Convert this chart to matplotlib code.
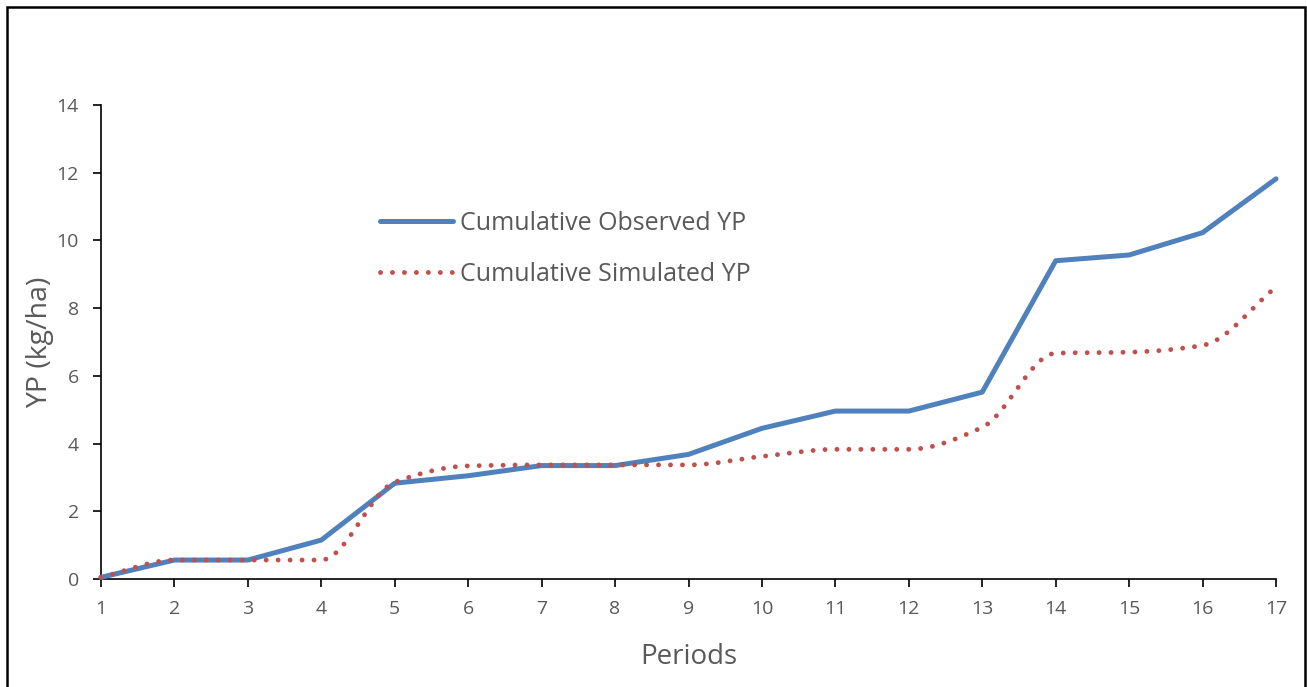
import numpy as np
import matplotlib
matplotlib.use("Agg")
import matplotlib.pyplot as plt
from matplotlib.path import Path
from matplotlib.patches import PathPatch, Rectangle
from matplotlib.lines import Line2D

periods = list(range(1, 18))
observed = [0.05, 0.56, 0.56, 1.15, 2.83, 3.05, 3.35, 3.35, 3.68, 4.45,
            4.96, 4.96, 5.52, 9.40, 9.57, 10.23, 11.82]
simulated = [0.05, 0.56, 0.56, 0.56, 2.86, 3.34, 3.37, 3.37, 3.37, 3.62,
             3.83, 3.83, 4.48, 6.67, 6.70, 6.90, 8.62]

blue = "#4F81BD"
red = "#C0504D"
grey = "#595959"

plt.rcParams["font.family"] = ["Open Sans", "DejaVu Sans"]

fig = plt.figure(figsize=(13.07, 6.87), dpi=100)
ax = fig.add_axes([101 / 1307, 1 - 579 / 687, 1175 / 1307, 474 / 687])


def smooth_path(xs, ys):
    # smoothed line, monotone tangents so flat parts stay flat
    x = np.asarray(xs, float)
    y = np.asarray(ys, float)
    n = len(x)
    h = np.diff(x)
    d = np.diff(y) / h
    m = np.zeros(n)
    m[0] = d[0]
    m[-1] = d[-1]
    for i in range(1, n - 1):
        if d[i - 1] * d[i] <= 0:
            m[i] = 0.0
        else:
            m[i] = 2.0 / (1.0 / d[i - 1] + 1.0 / d[i])
    verts = [(x[0], y[0])]
    codes = [Path.MOVETO]
    for i in range(n - 1):
        verts.append((x[i] + h[i] / 3, y[i] + m[i] * h[i] / 3))
        verts.append((x[i + 1] - h[i] / 3, y[i + 1] - m[i + 1] * h[i] / 3))
        verts.append((x[i + 1], y[i + 1]))
        codes += [Path.CURVE4] * 3
    return Path(verts, codes)


dots = (0, (0.01, 2.45))

ax.plot(periods, observed, color=blue, lw=3.6, solid_capstyle="round",
        solid_joinstyle="round", zorder=3, clip_on=False)

sim_patch = PathPatch(smooth_path(periods, simulated), facecolor="none",
                      edgecolor=red, lw=3.5, linestyle=dots,
                      capstyle="round", zorder=4, clip_on=False)
ax.add_patch(sim_patch)

ax.set_xlim(1, 17)
ax.set_ylim(0, 14)
ax.set_xticks(periods)
ax.set_yticks(range(0, 15, 2))

for s in ["top", "right"]:
    ax.spines[s].set_visible(False)
for s in ["left", "bottom"]:
    ax.spines[s].set_linewidth(1.2)
    ax.spines[s].set_color("black")

ax.tick_params(axis="both", direction="out", length=6, width=1.2,
               colors="black", labelcolor=grey, labelsize=14)
ax.tick_params(axis="y", pad=10)
ax.tick_params(axis="x", pad=9)

ax.set_xlabel("Periods", fontsize=20, color=grey, labelpad=18)
ax.set_ylabel("YP (kg/ha)", fontsize=20.5, color=grey, labelpad=2)

handles = [
    Line2D([], [], color=blue, lw=3.6, solid_capstyle="round"),
    Line2D([], [], color=red, lw=3.5, linestyle=dots,
           dash_capstyle="round"),
]
labels = ["Cumulative Observed YP", "Cumulative Simulated YP"]
fig.legend(handles, labels, loc="upper left",
           bbox_to_anchor=(358 / 1307, 1 - 188 / 687), frameon=False,
           fontsize=18, labelcolor=grey, handlelength=2.9,
           handletextpad=0.3, labelspacing=1.05)

fig.patches.append(Rectangle((6.5 / 1307, -0.05), 1298 / 1307, 1.05 - 6.5 / 687,
                             transform=fig.transFigure, fill=False,
                             edgecolor="black", lw=1.8, zorder=10))

fig.savefig("out.png", dpi=100)
